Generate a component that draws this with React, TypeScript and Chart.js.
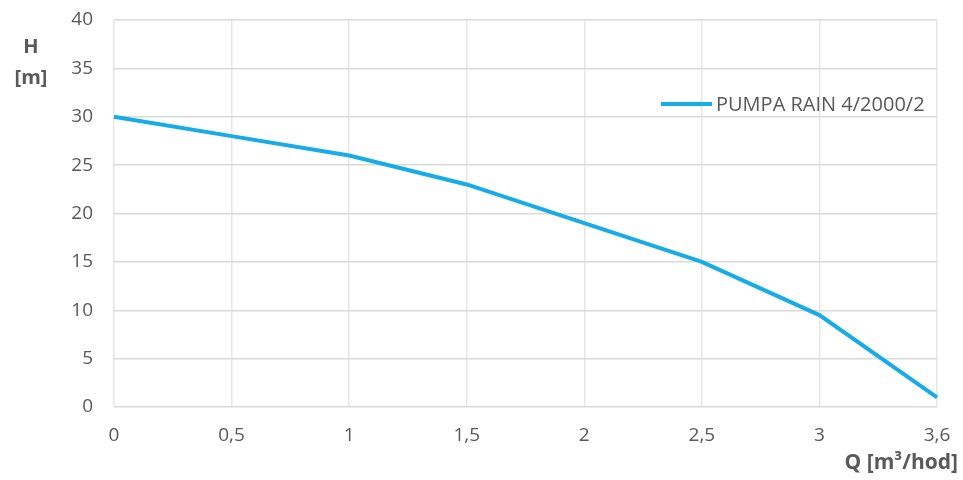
import React, { useEffect, useRef } from 'react';
import { Chart, registerables } from 'chart.js';

Chart.register(...registerables);

const flowLabels = ['0', '0,5', '1', '1,5', '2', '2,5', '3', '3,6'];
const headValues = [30, 28, 26, 23, 19, 15, 9.5, 1];
const seriesName = 'PUMPA RAIN 4/2000/2';
const yTicks = [0, 5, 10, 15, 20, 25, 30, 35, 40];

const LINE_COLOR = '#17ACE6';
const TEXT_COLOR = '#595959';
const GRID_COLOR = '#D9D9D9';
const VGRID_COLOR = '#E6E6E6';
const FONT = '"Open Sans", sans-serif';

// axis titles and the in-plot legend are drawn by hand
const extrasPlugin = {
  id: 'extras',
  afterDraw(chart: Chart) {
    const { ctx } = chart;
    ctx.save();
    ctx.fillStyle = TEXT_COLOR;
    ctx.font = `bold 20px ${FONT}`;
    ctx.textAlign = 'center';
    ctx.textBaseline = 'middle';
    ctx.fillText('H', 31, 47);
    ctx.fillText('[m]', 31, 78);
    ctx.textAlign = 'right';
    ctx.font = `bold 21px ${FONT}`;
    ctx.fillText('Q [m³/hod]', 958, 463);

    const ds = chart.data.datasets[0];
    const ly = 104;
    ctx.strokeStyle = LINE_COLOR;
    ctx.lineWidth = 4;
    ctx.beginPath();
    ctx.moveTo(661, ly);
    ctx.lineTo(712, ly);
    ctx.stroke();
    ctx.font = `20px ${FONT}`;
    ctx.textAlign = 'left';
    ctx.fillText(String(ds.label), 716, ly + 1);
    ctx.restore();
  },
};

export default function App() {
  const canvasRef = useRef<HTMLCanvasElement>(null);
  const chartRef = useRef<Chart | null>(null);

  useEffect(() => {
    if (!canvasRef.current) return;
    const ctx = canvasRef.current.getContext('2d');
    if (!ctx) return;
    if (chartRef.current) chartRef.current.destroy();

    chartRef.current = new Chart(ctx, {
      type: 'line',
      data: {
        labels: flowLabels,
        datasets: [
          {
            label: seriesName,
            data: headValues,
            borderColor: LINE_COLOR,
            backgroundColor: LINE_COLOR,
            borderWidth: 4,
            pointRadius: 0,
            tension: 0,
          },
        ],
      },
      options: {
        animation: false,
        responsive: true,
        maintainAspectRatio: false,
        layout: { padding: { top: 20, right: 26, left: 0, bottom: 0 } },
        scales: {
          x: {
            type: 'category',
            offset: false,
            grid: { color: VGRID_COLOR, drawTicks: false, lineWidth: 1.5 },
            border: { display: false },
            ticks: {
              color: TEXT_COLOR,
              font: { size: 19, family: FONT },
              padding: 17,
              maxRotation: 0,
              autoSkip: false,
            },
            afterFit: (scale: any) => {
              scale.height = 73;
              scale.paddingLeft = 0;
              scale.paddingRight = 0;
            },
          },
          y: {
            min: 0,
            max: 40,
            afterBuildTicks: (scale: any) => {
              scale.ticks = yTicks.map((v) => ({ value: v }));
            },
            grid: { color: GRID_COLOR, drawTicks: false, lineWidth: 1.5 },
            border: { display: false },
            ticks: {
              color: TEXT_COLOR,
              font: { size: 19, family: FONT },
              padding: 21,
            },
            afterFit: (scale: any) => {
              scale.width = 114;
              scale.paddingTop = 0;
              scale.paddingBottom = 0;
            },
          },
        },
        plugins: {
          legend: { display: false },
          tooltip: { enabled: false },
        },
      },
      plugins: [extrasPlugin],
    });

    return () => {
      if (chartRef.current) chartRef.current.destroy();
      chartRef.current = null;
    };
  }, []);

  return (
    <div style={{ position: 'fixed', left: 0, top: 0, width: 963, height: 480, background: '#fff' }}>
      <canvas ref={canvasRef} />
    </div>
  );
}
